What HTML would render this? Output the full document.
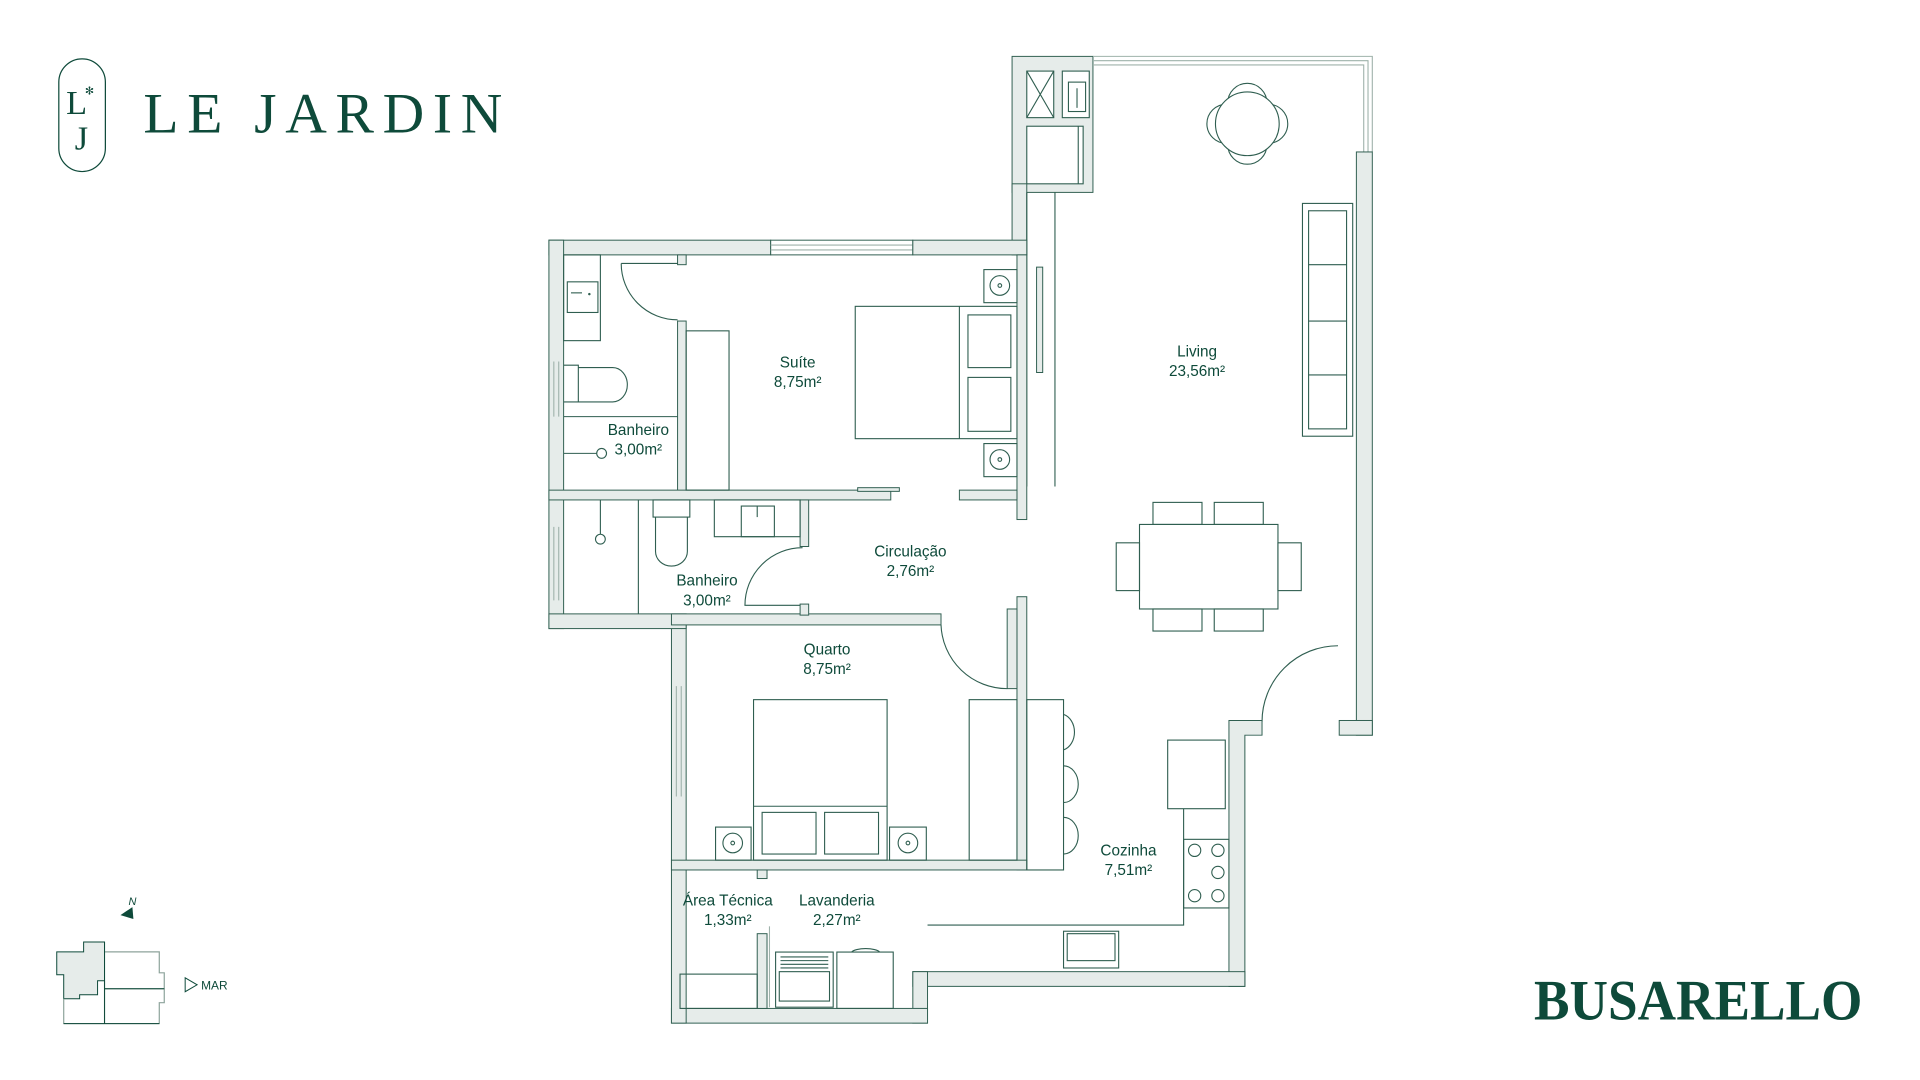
<!DOCTYPE html>
<html><head><meta charset="utf-8"><style>
html,body{margin:0;padding:0;background:#fff;width:1920px;height:1080px;overflow:hidden}
svg{display:block}
.w{fill:#e6ecea;stroke:#2f5e50;stroke-width:0.8}
.f{fill:none;stroke:#2f5e50;stroke-width:0.9}
.fw{fill:#fff;stroke:#2f5e50;stroke-width:0.9}
.g{fill:none;stroke:#9fb2ab;stroke-width:0.9}
.t{font-family:"Liberation Sans",sans-serif;font-size:12.5px;fill:#0e4a3a;text-anchor:middle}
</style></head><body>
<svg width="1920" height="1080" viewBox="0 0 1567 881.4" xmlns="http://www.w3.org/2000/svg">
<rect x="48" y="48" width="38" height="92" rx="19" fill="none" stroke="#0e4a3a" stroke-width="1"/>
<text x="54" y="93" font-family="Liberation Serif,serif" font-size="28" fill="#0e4a3a">L</text>
<text x="61" y="122" font-family="Liberation Serif,serif" font-size="28" fill="#0e4a3a">J</text>
<text x="73" y="77" font-family="Liberation Sans,sans-serif" font-size="9" fill="#0e4a3a" text-anchor="middle">✻</text>
<text x="117" y="108" font-family="Liberation Serif,serif" font-size="47" fill="#0e4a3a" textLength="293" lengthAdjust="spacing">LE JARDIN</text>
<text x="1252" y="832" font-family="Liberation Serif,serif" font-weight="bold" font-size="47" fill="#0e4a3a" textLength="268" lengthAdjust="spacingAndGlyphs">BUSARELLO</text>

<rect class="w" x="826" y="46" width="66" height="111"/>
<rect class="fw" x="838" y="58" width="22" height="38"/><path class="f" d="M838,58 L860,96 M860,58 L838,96"/>
<rect class="fw" x="867" y="58" width="22" height="38"/><rect class="f" x="872" y="67" width="14" height="24"/><path class="f" d="M879,72 V88"/>
<rect class="fw" x="838" y="103" width="46" height="47"/><path class="f" d="M880,103 V150"/>
<rect class="w" x="826" y="150" width="12" height="58"/>
<path class="f" d="M861,157 V397 M838,157 V397"/>
<rect class="w" x="846" y="218" width="5" height="86"/>
<path class="g" d="M892,46 H1120 V124 M892,49.5 H1116.5 V124 M892,53 H1113 V124"/>
<rect class="w" x="1107" y="124" width="13" height="476"/>
<rect class="w" x="1093" y="588" width="27" height="12"/>
<path class="f" d="M1092,527 A62,62 0 0 0 1030,589"/>
<path class="w" d="M1003,588 H1030 V600 H1016 V805 H1003 Z"/>
<rect class="w" x="745" y="793" width="271" height="12"/>
<rect class="w" x="745" y="793" width="12" height="42"/>
<rect class="w" x="548" y="823" width="209" height="12"/>
<rect class="w" x="548" y="510" width="12" height="325"/>
<path class="g" d="M552,560 V650 M556,560 V650"/>
<rect class="w" x="448" y="196" width="181" height="12"/>
<rect class="w" x="629" y="196" width="116" height="12" style="fill:#fff"/>
<path class="g" d="M629,200 H745 M629,204 H745"/>
<rect class="w" x="745" y="196" width="93" height="12"/>
<rect class="w" x="448" y="196" width="12" height="317"/>
<path class="g" d="M452,295 V340 M456,295 V340 M452,430 V490 M456,430 V490"/>
<rect class="w" x="448" y="501" width="112" height="12"/>
<rect class="w" x="548" y="501" width="220" height="9"/>
<rect class="w" x="553" y="208" width="7" height="8"/>
<rect class="w" x="553" y="262" width="7" height="140"/>
<path class="f" d="M507,215 H553 M507,215 A46,46 0 0 0 553,261"/>
<rect class="w" x="448" y="400" width="279" height="8"/>
<rect class="w" x="700" y="398" width="34" height="3"/>
<rect class="w" x="653" y="408" width="7" height="38"/>
<rect class="w" x="653" y="493" width="7" height="9"/>
<path class="f" d="M655,447 A47,47 0 0 0 608,494 H653"/>
<path class="f" d="M521,408 V501"/>
<rect class="w" x="830" y="208" width="8" height="216"/>
<rect class="w" x="783" y="400" width="47" height="8"/>
<rect class="w" x="830" y="487" width="8" height="223"/>
<rect class="w" x="822" y="497" width="8" height="65"/>
<path class="f" d="M768,510 A54,54 0 0 0 822,562"/>
<rect class="w" x="548" y="702" width="290" height="8"/>
<rect class="w" x="618" y="710" width="8" height="7"/>
<rect class="w" x="618" y="762" width="8" height="61"/>
<path class="g" d="M628,756 V822"/>

<rect class="f" x="698" y="250" width="132" height="108"/>
<path class="f" d="M783,250 V358"/>
<rect class="f" x="790" y="257" width="35" height="43"/>
<rect class="f" x="790" y="308" width="35" height="44"/>
<rect class="f" x="803" y="220" width="27" height="27"/><circle class="f" cx="816" cy="233" r="8"/><circle class="f" cx="816" cy="233" r="1.5"/>
<rect class="f" x="803" y="362" width="27" height="27"/><circle class="f" cx="816" cy="375" r="8"/><circle class="f" cx="816" cy="375" r="1.5"/>
<rect class="f" x="560" y="270" width="35" height="130"/>
<rect class="f" x="460" y="208" width="30" height="70"/>
<rect class="f" x="463" y="230" width="25" height="25"/>
<path class="f" d="M466,239 H475"/><circle cx="481" cy="240" r="1" fill="#2f5e50"/>
<path class="f" d="M460,298 H472 V328 H460 M472,300 H500 A12,14 0 0 1 500,328 H472"/>
<path class="f" d="M460,340 H553"/>
<path class="f" d="M460,370 H487"/><circle class="f" cx="491" cy="370" r="4"/>
<path class="f" d="M490,408 V436"/><circle class="f" cx="490" cy="440" r="4"/>
<rect class="f" x="533" y="408" width="30" height="14"/>
<path class="f" d="M535,422 V450 A13,12 0 0 0 561,450 V422"/>
<rect class="f" x="583" y="408" width="70" height="30"/>
<rect class="f" x="605" y="413" width="27" height="25"/>
<path class="f" d="M618,413 V422"/>
<ellipse class="fw" cx="1018" cy="84" rx="16" ry="16"/>
<ellipse class="fw" cx="1018" cy="118" rx="16" ry="16"/>
<ellipse class="fw" cx="1001" cy="101" rx="16" ry="16"/>
<ellipse class="fw" cx="1035" cy="101" rx="16" ry="16"/>
<circle class="fw" cx="1018" cy="101" r="26"/>
<rect class="f" x="1063" y="166" width="41" height="190"/>
<rect class="f" x="1068" y="172" width="31" height="178"/>
<path class="f" d="M1068,216 H1099 M1068,262 H1099 M1068,306 H1099"/>
<rect class="f" x="930" y="428" width="113" height="69"/>
<rect class="f" x="941" y="410" width="40" height="18"/><rect class="f" x="991" y="410" width="40" height="18"/>
<rect class="f" x="941" y="497" width="40" height="18"/><rect class="f" x="991" y="497" width="40" height="18"/>
<rect class="f" x="911" y="443" width="19" height="39"/><rect class="f" x="1043" y="443" width="19" height="39"/>
<rect class="f" x="615" y="571" width="109" height="131"/>
<path class="f" d="M615,658 H724"/>
<rect class="f" x="622" y="663" width="44" height="34"/><rect class="f" x="673" y="663" width="44" height="34"/>
<rect class="f" x="584" y="675" width="29" height="27"/><circle class="f" cx="598" cy="688" r="8"/><circle class="f" cx="598" cy="688" r="1.5"/>
<rect class="f" x="726" y="675" width="30" height="27"/><circle class="f" cx="741" cy="688" r="8"/><circle class="f" cx="741" cy="688" r="1.5"/>
<rect class="f" x="791" y="571" width="39" height="131"/>
<rect class="f" x="838" y="571" width="30" height="139"/>
<path class="f" d="M868,583 A12,15 0 0 1 868,612 M868,625 A12,15 0 0 1 868,655 M868,667 A12,15 0 0 1 868,697"/>
<rect class="f" x="953" y="604" width="47" height="56"/>
<path class="f" d="M966,660 V755 H757"/>
<rect class="f" x="966" y="685" width="37" height="56"/>
<circle class="f" cx="975" cy="694" r="5"/><circle class="f" cx="994" cy="694" r="5"/>
<circle class="f" cx="994" cy="712" r="5"/><circle class="f" cx="975" cy="731" r="5"/><circle class="f" cx="994" cy="731" r="5"/>
<rect class="f" x="868" y="760" width="45" height="30"/><rect class="f" x="871" y="762" width="39" height="22"/>
<rect class="f" x="633" y="777" width="47" height="45"/><rect class="f" x="636" y="793" width="41" height="24"/>
<path class="f" d="M637,781 H676 M637,784 H676 M637,787 H676 M637,790 H676"/>
<rect class="f" x="683" y="777" width="46" height="46"/>
<path class="f" d="M695,777 A12,4 0 0 1 718,777"/>
<rect class="f" x="555" y="795" width="63" height="28"/>

<text class="t" x="651" y="300">Suíte</text><text class="t" x="651" y="316">8,75m²</text>
<text class="t" x="977" y="291">Living</text><text class="t" x="977" y="307">23,56m²</text>
<text class="t" x="521" y="355">Banheiro</text><text class="t" x="521" y="371">3,00m²</text>
<text class="t" x="577" y="478">Banheiro</text><text class="t" x="577" y="494">3,00m²</text>
<text class="t" x="743" y="454">Circulação</text><text class="t" x="743" y="470">2,76m²</text>
<text class="t" x="675" y="534">Quarto</text><text class="t" x="675" y="550">8,75m²</text>
<text class="t" x="921" y="698">Cozinha</text><text class="t" x="921" y="714">7,51m²</text>
<text class="t" x="594" y="739">Área Técnica</text><text class="t" x="594" y="755">1,33m²</text>
<text class="t" x="683" y="739">Lavanderia</text><text class="t" x="683" y="755">2,27m²</text>

<g transform="translate(0,5) scale(0.8125)">
<text x="133" y="903" font-family="Liberation Sans,sans-serif" font-size="11" font-style="italic" fill="#0e4a3a" text-anchor="middle">N</text>
<polygon points="121,913 133,905 134,917" fill="#0e4a3a"/>
<polygon points="57,950 84,950 84,940 105,940 105,979 98,979 98,993 80,993 80,997 64,997 64,973 57,973" fill="#e6ecea" stroke="#0e4a3a" stroke-width="1"/>
<path d="M105,950 H160 V971 H165 V1001 H160 V1022 H64 V997 M105,979 V1022 M105,987 H165" fill="none" stroke="#8da39b" stroke-width="1.2"/>
<path d="M64,1022 H160 M105,987 H165 M105,940 V1022" fill="none" stroke="#0e4a3a" stroke-width="1"/>
<polygon points="186,976 198,983 186,990" fill="none" stroke="#0e4a3a" stroke-width="1"/>
<text x="202" y="988" font-family="Liberation Sans,sans-serif" font-size="12" fill="#0e4a3a">MAR</text>
</g>
</svg>
</body></html>
